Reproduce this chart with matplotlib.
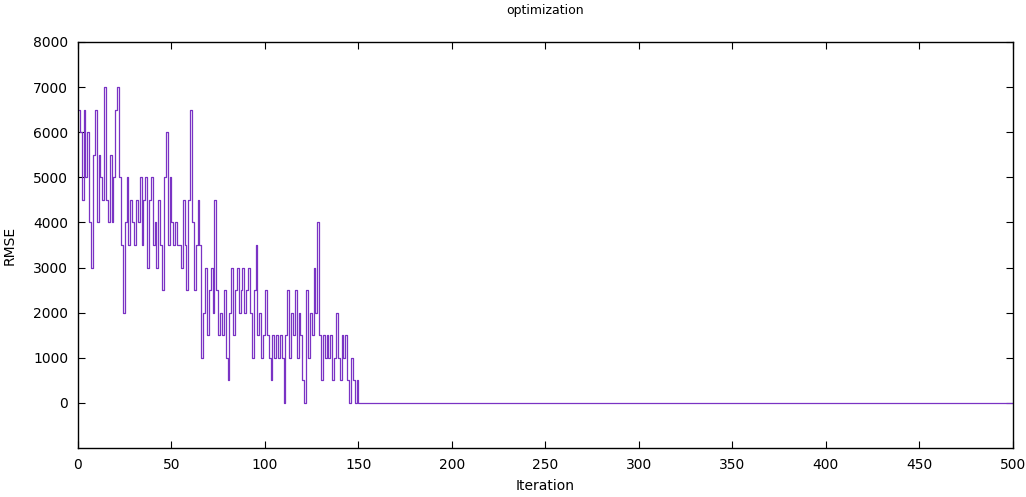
import matplotlib.pyplot as plt

# RMSE per iteration (0..150), then flat at 0
rmse_head = [6500, 6000, 4500, 6500, 5000, 6000, 4000, 3000, 5500, 6500,
             4000, 5500, 5000, 4500, 7000, 4500, 4000, 5500, 4000, 5000,
             6500, 7000, 5000, 3500, 2000, 4000, 5000, 3500, 4500, 4000,
             3500, 4500, 4000, 5000, 3500, 4500, 5000, 3000, 4500, 5000,
             3500, 4000, 3000, 4500, 3500, 2500, 5000, 6000, 3500, 5000,
             4000, 3500, 4000, 3500, 3500, 3000, 4500, 3500, 2500, 4500,
             6500, 4000, 2500, 3500, 4500, 3500, 1000, 2000, 3000, 1500,
             2500, 3000, 2000, 4500, 2500, 1500, 2000, 1500, 2500, 1000,
             500, 2000, 3000, 1500, 2500, 3000, 2000, 2500, 3000, 2000,
             2500, 3000, 2000, 1000, 2500, 3500, 1500, 2000, 1000, 1500,
             2500, 1500, 1000, 500, 1500, 1000, 1500, 1000, 1500, 1000,
             0, 1500, 2500, 1000, 2000, 1500, 2500, 1000, 2000, 1500,
             500, 0, 2500, 1000, 2000, 1500, 3000, 2000, 4000, 1500,
             500, 1500, 1000, 1500, 1000, 1500, 500, 1000, 2000, 1000,
             500, 1500, 1000, 1500, 500, 0, 1000, 500, 0, 500,
             0]
rmse_tail = [0] * 350
rmse = rmse_head + rmse_tail
iters = list(range(len(rmse)))

xticks = [0, 50, 100, 150, 200, 250, 300, 350, 400, 450, 500]
yticks = [0, 1000, 2000, 3000, 4000, 5000, 6000, 7000, 8000]

fig = plt.figure(figsize=(10.26, 4.97), dpi=100)
ax = fig.add_axes([0.076, 0.0986, 0.911, 0.817])
ax.plot(iters, rmse, color='#7a33c4', linewidth=0.9, drawstyle='steps-post')

ax.set_xlim(0, 500)
ax.set_ylim(-1000, 8000)
ax.set_xticks(xticks)
ax.set_yticks(yticks)
ax.tick_params(direction='in', top=True, right=True, labelsize=10, length=5, pad=7)
for s in ax.spines.values():
    s.set_linewidth(1.0)

ax.set_title('optimization', fontsize=9, pad=20)
ax.set_xlabel('Iteration', fontsize=10, labelpad=5)
ax.set_ylabel('RMSE', fontsize=10, labelpad=12)

fig.savefig('out.png', dpi=100)
